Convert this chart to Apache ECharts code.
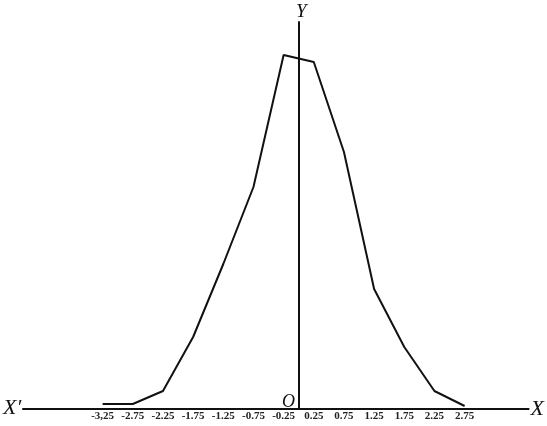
<!DOCTYPE html>
<html>
<head>
<meta charset="utf-8">
<script src="https://cdn.jsdelivr.net/npm/echarts@6/dist/echarts.min.js"></script>
<style>
    html, body { margin: 0; padding: 0; background: #fff; }
    #chart { width: 547px; height: 426px; }
</style>
</head>
<body>
<div id="chart"></div>
<script>
    // mid-values of the classes and the polygon heights
    const midpoints = [-3.25, -2.75, -2.25, -1.75, -1.25, -0.75, -0.25, 0.25, 0.75, 1.25, 1.75, 2.25, 2.75];
    const heights = [5, 5, 18, 72, 145, 222, 354, 347, 257, 120, 62, 18, 3];
    const tickLabels = ['-3,25', '-2.75', '-2.25', '-1.75', '-1.25', '-0.75', '-0.25', '0.25', '0.75', '1.25', '1.75', '2.25', '2.75'];
    const xMin = -4.57, xMax = 3.81;
    const yMax = 387;

    const serif = '"Liberation Serif", "DejaVu Serif", serif';

    let chart = echarts.init(document.getElementById('chart'));
    let option = {
        backgroundColor: '#fff',
        animation: false,
        grid: {
            left: 23,
            right: 16,
            top: 22,
            bottom: 17,
            containLabel: false
        },
        xAxis: {
            type: 'value',
            min: xMin,
            max: xMax,
            name: 'X',
            nameLocation: 'end',
            nameGap: 2,
            nameTextStyle: {
                fontFamily: serif,
                fontStyle: 'italic',
                fontSize: 22,
                color: '#111'
            },
            axisLine: { show: true, lineStyle: { color: '#111', width: 2 } },
            axisTick: { show: false },
            splitLine: { show: false },
            axisLabel: {
                customValues: midpoints,
                margin: 2,
                fontFamily: serif,
                fontSize: 11,
                fontWeight: 'bold',
                color: '#222',
                formatter: function (v) {
                    let i = midpoints.indexOf(v);
                    return i >= 0 ? tickLabels[i] : '';
                }
            }
        },
        yAxis: {
            type: 'value',
            min: 0,
            max: yMax,
            name: 'Y',
            nameLocation: 'end',
            nameGap: 1,
            nameTextStyle: {
                fontFamily: serif,
                fontStyle: 'italic',
                fontSize: 19,
                color: '#111',
                padding: [0, 0, 0, 5]
            },
            axisLine: { show: true, onZero: true, lineStyle: { color: '#111', width: 2 } },
            axisTick: { show: false },
            axisLabel: { show: false },
            splitLine: { show: false }
        },
        graphic: [
            {
                type: 'text',
                left: 3,
                top: 397,
                style: {
                    text: 'X\u2032',
                    font: 'italic 22px ' + serif,
                    fill: '#111'
                }
            },
            {
                type: 'text',
                left: 282,
                top: 393,
                style: {
                    text: 'O',
                    font: 'italic 18px ' + serif,
                    fill: '#111'
                }
            }
        ],
        series: [
            {
                type: 'line',
                data: midpoints.map(function (m, i) { return [m, heights[i]]; }),
                smooth: false,
                showSymbol: false,
                symbol: 'none',
                lineStyle: { color: '#111', width: 2 }
            }
        ]
    };
    chart.setOption(option);
</script>
</body>
</html>
